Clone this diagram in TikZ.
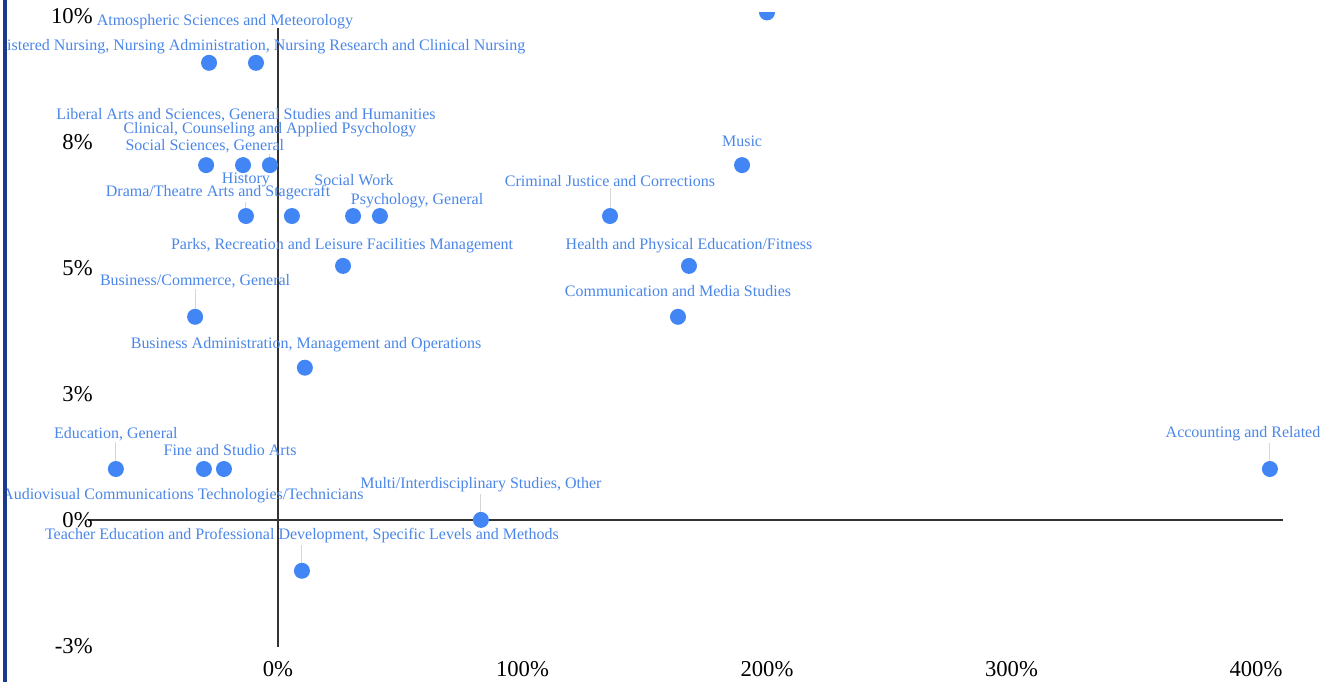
\documentclass[tikz,border=0pt]{standalone}
\usepackage{fontspec}
\setmainfont{Liberation Serif}
\definecolor{DotBlue}{HTML}{4285F4}
\definecolor{LabelBlue}{HTML}{4A86E8}
\definecolor{AxisGrey}{HTML}{333333}
\definecolor{LeaderGrey}{HTML}{D6D6D6}
\definecolor{BorderNavy}{HTML}{1B3A8C}

\begin{document}
\begin{tikzpicture}[x=1.834pt,y=37.8pt,
  dot/.style={circle,fill=DotBlue,inner sep=0pt,minimum size=12pt},
  lbl/.style={text=LabelBlue,font=\fontsize{12}{12}\selectfont,inner sep=1pt},
  tick/.style={font=\fontsize{17}{17}\selectfont,text=black,inner sep=0pt},
  leader/.style={draw=LeaderGrey,line width=0.75pt}]

  \useasboundingbox (-113.7,-3.214) rectangle (427.0,10.317);

  % Axes
  \draw[AxisGrey,line width=1.4pt] (-77.7,0) -- (411.0,0);
  \draw[AxisGrey,line width=1.4pt] (0,9.76) -- (0,-2.52);

  % Tick labels
  \foreach \v/\t in {10/10, 7.5/8, 5/5, 2.5/3, 0/0, -2.5/-3}
    \node[tick,anchor=east] at (-75.7,\v) {\t\%};
  \foreach \v in {0,100,200,300,400}
    \node[tick] at (\v,-2.96) {\v\%};

  % Data points (top edge of the plot cuts the highest one)
  \begin{scope}
    \clip (-113.7,-3.214) rectangle (427.0,10.07);
    \node[dot] (atmo)   at (200.0,10.07) {};
    \node[dot] (nursA)  at (-28.2,9.07) {};
    \node[dot] (nursB)  at (-9.0,9.07) {};
    \node[dot] (lib)    at (-29.4,7.04) {};
    \node[dot] (clin)   at (-14.3,7.04) {};
    \node[dot] (socsci) at (-3.3,7.04) {};
    \node[dot] (drama)  at (-13.1,6.03) {};
    \node[dot] (hist)   at (5.7,6.03) {};
    \node[dot] (socw)   at (30.7,6.03) {};
    \node[dot] (psych)  at (41.7,6.03) {};
    \node[dot] (parks)  at (26.6,5.04) {};
    \node[dot] (buscom) at (-33.9,4.03) {};
    \node[dot] (busadm) at (11.0,3.02) {};
    \node[dot] (edu)    at (-66.3,1.01) {};
    \node[dot] (fine)   at (-30.3,1.01) {};
    \node[dot] (audio)  at (-22.1,1.01) {};
    \node[dot] (multi)  at (83.0,0) {};
    \node[dot] (teach)  at (9.8,-1.01) {};
    \node[dot] (music)  at (189.8,7.04) {};
    \node[dot] (crim)   at (135.8,6.03) {};
    \node[dot] (health) at (168.1,5.04) {};
    \node[dot] (comm)   at (163.6,4.03) {};
    \node[dot] (acct)   at (405.7,1.01) {};
  \end{scope}

  % Point labels
  \node[lbl] (atmoL) at (-21.7,9.88) {Atmospheric Sciences and Meteorology};
  \node[lbl,anchor=east] (nursL) at (101.8,9.40)
    {Registered Nursing, Nursing Administration, Nursing Research and Clinical Nursing};
  \node[lbl] (libL) at (-13.1,8.04) {Liberal Arts and Sciences, General Studies and Humanities};
  \node[lbl] (clinL) at (-3.3,7.74) {Clinical, Counseling and Applied Psychology};
  \node[lbl] (socsciL) at (-29.9,7.42) {Social Sciences, General};
  \node[lbl] (histL) at (-13.1,6.75) {History};
  \node[lbl] (dramaL) at (-24.5,6.49) {Drama/Theatre Arts and Stagecraft};
  \node[lbl] (socwL) at (31.1,6.75) {Social Work};
  \node[lbl] (psychL) at (56.9,6.33) {Psychology, General};
  \node[lbl] (parksL) at (26.2,5.44) {Parks, Recreation and Leisure Facilities Management};
  \node[lbl] (buscomL) at (-33.9,4.74) {Business/Commerce, General};
  \node[lbl] (busadmL) at (11.5,3.47) {Business Administration, Management and Operations};
  \node[lbl] (eduL) at (-66.3,1.71) {Education, General};
  \node[lbl] (fineL) at (-19.6,1.39) {Fine and Studio Arts};
  \node[lbl,anchor=east] (audioL) at (35.6,0.48) {Audiovisual Communications Technologies/Technicians};
  \node[lbl] (multiL) at (83.0,0.69) {Multi/Interdisciplinary Studies, Other};
  \node[lbl] (teachL) at (9.8,-0.32) {Teacher Education and Professional Development, Specific Levels and Methods};
  \node[lbl] (musicL) at (189.8,7.52) {Music};
  \node[lbl] (crimL) at (135.8,6.73) {Criminal Justice and Corrections};
  \node[lbl] (healthL) at (168.1,5.44) {Health and Physical Education/Fitness};
  \node[lbl] (commL) at (163.6,4.54) {Communication and Media Studies};
  \node[lbl] (acctL) at (394.7,1.71) {Accounting and Related};

  % Leader lines
  \draw[leader] (socsciL.south -| socsci) -- (socsci);
  \draw[leader] (dramaL.south -| drama) -- (drama);
  \draw[leader] (buscomL) -- (buscom);
  \draw[leader] (eduL) -- (edu);
  \draw[leader] (multiL) -- (multi);
  \draw[leader] (teachL) -- (teach);
  \draw[leader] (crimL) -- (crim);
  \draw[leader] (acctL.south -| acct) -- (acct);

  % Left border
  \fill[white] (-113.7,-3.214) rectangle (-112.47,10.317);
  \fill[BorderNavy] (-112.47,-3.214) rectangle (-110.84,10.317);
\end{tikzpicture}
\end{document}
